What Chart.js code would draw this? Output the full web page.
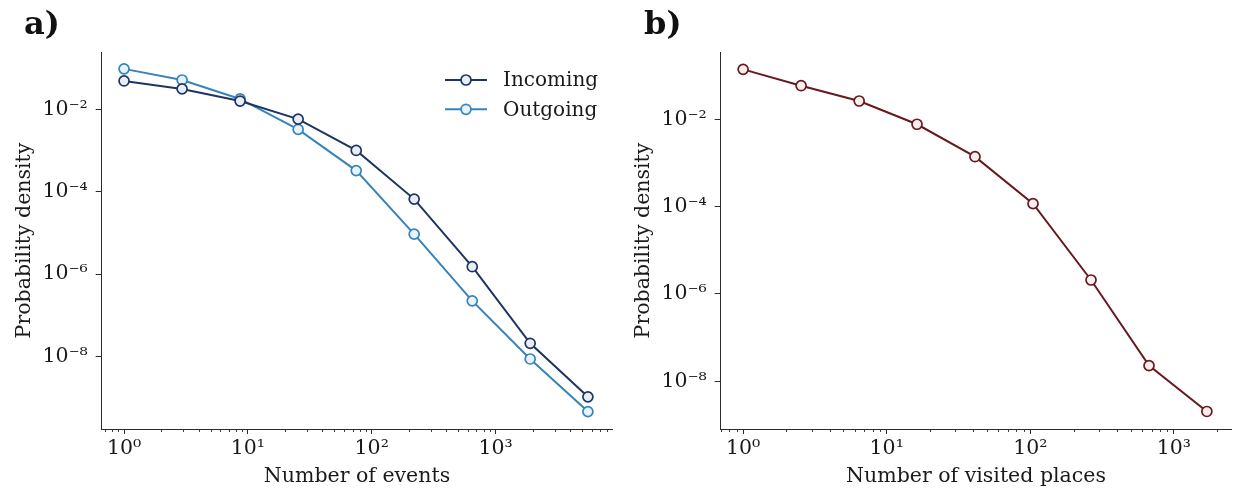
<!DOCTYPE html>
<html><head><meta charset="utf-8">
<script src="https://cdn.jsdelivr.net/npm/chart.js@4.4.0/dist/chart.umd.min.js"></script>
<style>
html,body{margin:0;padding:0;background:#fff;}
#wrap{position:relative;width:1238px;height:493px;overflow:hidden;background:#fff;}
.panel{position:absolute;top:0;width:619px;height:493px;}
.lab{position:absolute;font-family:'DejaVu Serif';font-weight:bold;font-size:32px;color:#111;line-height:1;}
</style></head>
<body><div id="wrap">
<div class="panel" style="left:0"><canvas id="ca"></canvas></div>
<div class="panel" style="left:619px"><canvas id="cb"></canvas></div>
<div class="lab" style="left:24px;top:7px">a)</div>
<div class="lab" style="left:644px;top:7px">b)</div>
</div>
<script>
// ---------- data ----------
const eventsX = [1, 2.944, 8.65, 25.47, 74.99, 220.3, 648.6, 1905, 5572];
const incoming = [0.0486, 0.0311, 0.0158, 5.75e-3, 1.0e-3, 6.6e-5, 1.51e-6, 2.09e-8, 1.05e-9];
const outgoing = [0.0955, 0.0513, 0.0178, 3.24e-3, 3.24e-4, 9.3e-6, 2.24e-7, 8.7e-9, 4.6e-10];

const placesX = [1, 2.535, 6.43, 16.26, 41.2, 104.5, 264.9, 671.4, 1698];
const visited = [0.139, 0.0587, 0.0262, 7.69e-3, 1.39e-3, 1.17e-4, 2.09e-6, 2.29e-8, 2.04e-9];

const xMajorTicks = [1, 10, 100, 1000];
const yMajorTicks = [1e-8, 1e-6, 1e-4, 1e-2];

const seriesLabels = ['Incoming', 'Outgoing'];
const xTitleA = 'Number of events';
const xTitleB = 'Number of visited places';
const yTitle = 'Probability density';

// axis limits
const limA = {xmin: 0.66, xmax: 8770, ymin: 1.74e-10, ymax: 0.245};
const limB = {xmin: 0.698, xmax: 2512, ymin: 8.1e-10, ymax: 0.347};

// ---------- helpers ----------
const SUP = {'-':'\u207B','0':'\u2070','1':'\u00B9','2':'\u00B2','3':'\u00B3','4':'\u2074','5':'\u2075','6':'\u2076','7':'\u2077','8':'\u2078','9':'\u2079'};
function powLabel(v){
  const e = Math.round(Math.log10(v));
  if (Math.abs(v / Math.pow(10, e) - 1) > 1e-6) return '';
  return '10' + String(e).split('').map(c => SUP[c]).join('');
}
function minorValues(lo, hi){
  const out = [];
  for (let e = Math.floor(Math.log10(lo)) ; e <= Math.ceil(Math.log10(hi)); e++){
    for (let m = 2; m <= 9; m++){
      const v = m * Math.pow(10, e);
      if (v >= lo && v <= hi) out.push(v);
    }
  }
  return out;
}
const FONT = "'DejaVu Serif', 'Liberation Serif', serif";
const FS = 20.5;
const TXT = '#1a1a1a';
const AX = '#2b2b2b';

const minorTickPlugin = {
  id: 'minorTickPlugin',
  afterDraw(chart){
    const s = chart.scales.x, ctx = chart.ctx;
    const vals = minorValues(s.min, s.max);
    ctx.save();
    ctx.strokeStyle = AX; ctx.lineWidth = 0.9;
    vals.forEach(v => {
      const px = Math.round(s.getPixelForValue(v)) + 0.5;
      ctx.beginPath(); ctx.moveTo(px, s.top); ctx.lineTo(px, s.top + 3); ctx.stroke();
    });
    ctx.restore();
  }
};

const inLegendPlugin = {
  id: 'inLegend',
  afterDraw(chart, args, o){
    if (!o || !o.show) return;
    const ctx = chart.ctx;
    chart.data.datasets.forEach((ds, i) => {
      const y = o.y0 + i * o.dy;
      ctx.save();
      ctx.strokeStyle = ds.borderColor; ctx.lineWidth = ds.borderWidth;
      ctx.beginPath(); ctx.moveTo(o.x0, y); ctx.lineTo(o.x1, y); ctx.stroke();
      ctx.beginPath(); ctx.arc((o.x0 + o.x1) / 2, y, ds.pointRadius, 0, 2 * Math.PI);
      ctx.fillStyle = ds.pointBackgroundColor; ctx.fill();
      ctx.lineWidth = ds.pointBorderWidth; ctx.strokeStyle = ds.pointBorderColor; ctx.stroke();
      ctx.fillStyle = TXT; ctx.font = '20px ' + FONT; ctx.textBaseline = 'middle'; ctx.textAlign = 'left';
      ctx.fillText(ds.label, o.tx, y + 1);
      ctx.restore();
    });
  }
};

function series(label, xs, ys, color, fill){
  return {
    label, data: xs.map((x, i) => ({x, y: ys[i]})),
    borderColor: color, borderWidth: 2,
    pointRadius: 5, pointBorderWidth: 1.7,
    pointBorderColor: color, pointBackgroundColor: fill,
    pointHoverRadius: 5, tension: 0
  };
}

function makeChart(id, datasets, lim, xTitle, legendOpts){
  return new Chart(document.getElementById(id), {
    type: 'line',
    data: { datasets },
    options: {
      responsive: true, maintainAspectRatio: false, animation: false, devicePixelRatio: 1,
      layout: { padding: { top: 52, right: 1.3, left: 0, bottom: 0 } },
      plugins: { legend: { display: false }, tooltip: { enabled: false }, inLegend: legendOpts },
      scales: {
        x: {
          type: 'logarithmic', min: lim.xmin, max: lim.xmax,
          afterBuildTicks: s => { s.ticks = xMajorTicks.filter(v => v >= lim.xmin && v <= lim.xmax).map(v => ({value: v, major: true})); },
          afterFit: s => { s.height = 64; s.paddingLeft = 0; s.paddingRight = 0; },
          grid: { display: true, drawOnChartArea: false, drawTicks: true, tickLength: 5, tickColor: AX, tickWidth: 1 },
          border: { display: true, color: AX, width: 1 },
          ticks: { autoSkip: false, maxRotation: 0, padding: 2, color: TXT, font: { family: FONT, size: FS }, callback: v => powLabel(v) },
          title: { display: true, text: xTitle, color: TXT, font: { family: FONT, size: FS }, padding: { top: 0, bottom: 3.7 } }
        },
        y: {
          type: 'logarithmic', min: lim.ymin, max: lim.ymax,
          afterBuildTicks: s => { s.ticks = yMajorTicks.filter(v => v >= lim.ymin && v <= lim.ymax).map(v => ({value: v, major: true})); },
          afterFit: s => { s.width = 101.7; s.paddingTop = 0; s.paddingBottom = 0; },
          grid: { display: true, drawOnChartArea: false, drawTicks: true, tickLength: 6, tickColor: AX, tickWidth: 1 },
          border: { display: true, color: AX, width: 1 },
          ticks: { autoSkip: false, padding: 8, color: TXT, font: { family: FONT, size: FS }, callback: v => powLabel(v) },
          title: { display: true, text: yTitle, color: TXT, font: { family: FONT, size: FS }, padding: { top: 12.7, bottom: 0 } }
        }
      }
    },
    plugins: [minorTickPlugin, inLegendPlugin]
  });
}

makeChart('ca', [
  series(seriesLabels[0], eventsX, incoming, '#1c3564', '#e9eef5'),
  series(seriesLabels[1], eventsX, outgoing, '#3784bd', '#e6f3fb')
], limA, xTitleA, { show: true, x0: 445, x1: 487, y0: 80, dy: 29.3, tx: 503 });

makeChart('cb', [
  series('Visited places', placesX, visited, '#681820', '#f8eeee')
], limB, xTitleB, { show: false });
</script>
</body></html>
